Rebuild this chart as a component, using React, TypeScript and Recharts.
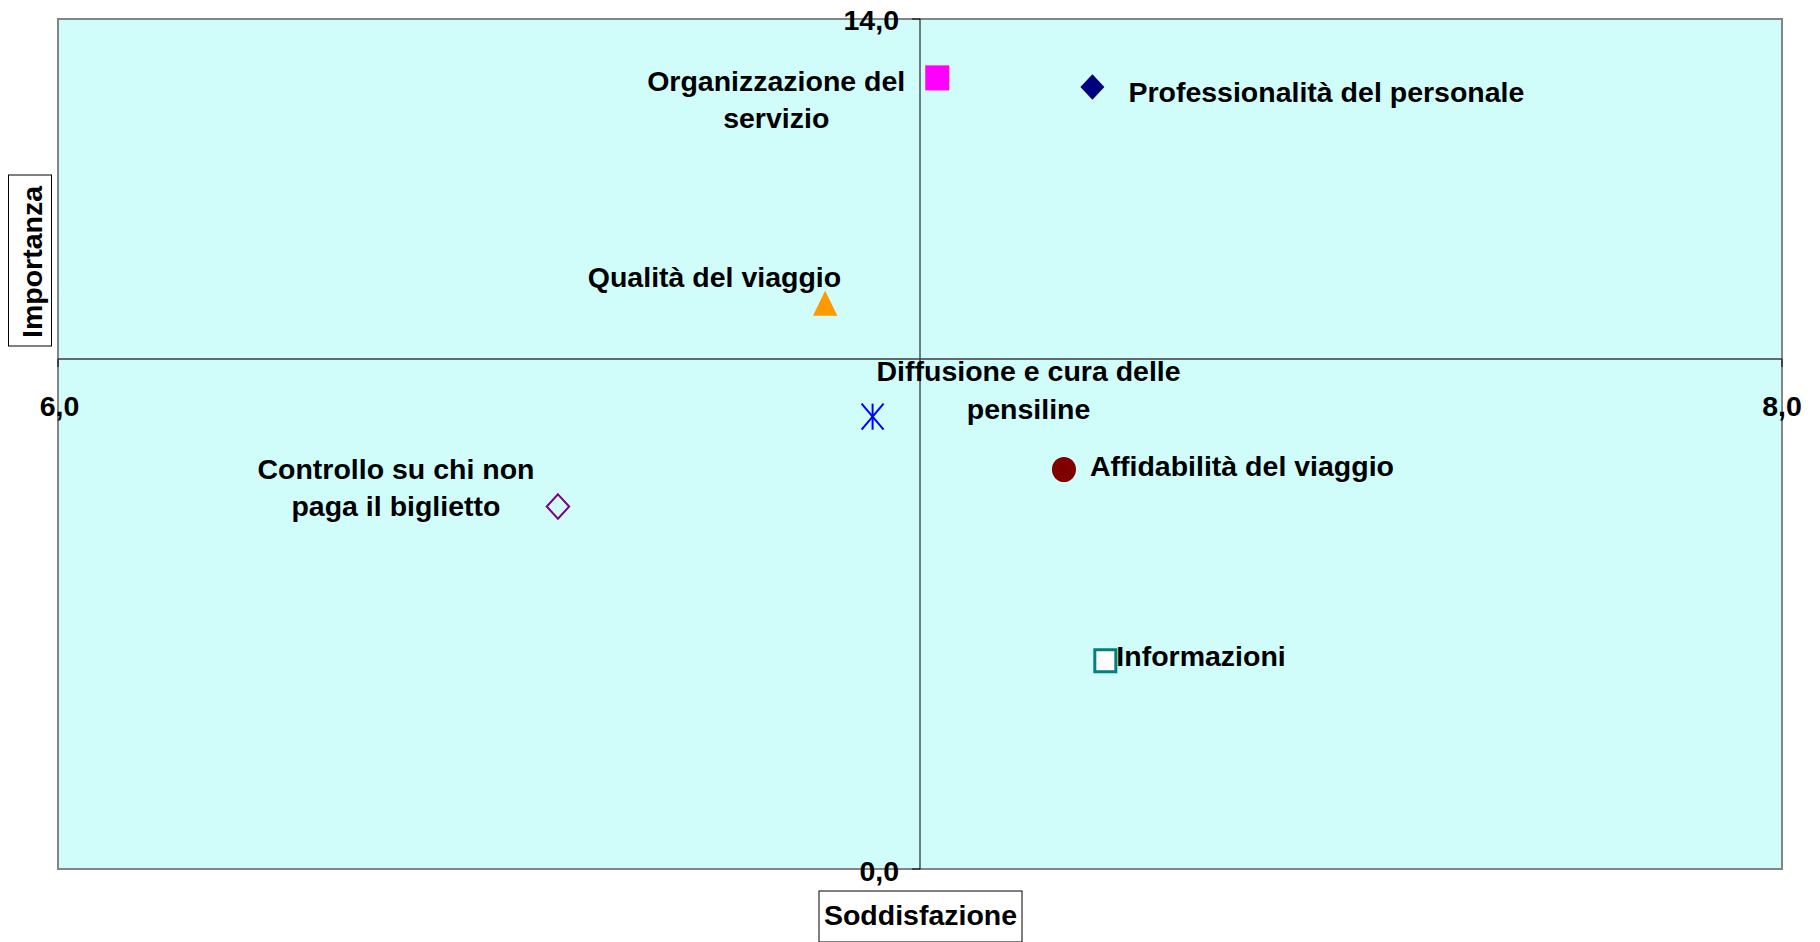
import React from 'react';
import {
  ScatterChart,
  Scatter,
  XAxis,
  YAxis,
  ReferenceArea,
  ReferenceLine,
  ReferenceDot,
} from 'recharts';

// ---------------- DATA ----------------
const categories = [
  'Professionalità del personale',
  'Organizzazione del servizio',
  'Qualità del viaggio',
  'Diffusione e cura delle pensiline',
  'Affidabilità del viaggio',
  'Controllo su chi non paga il biglietto',
  'Informazioni',
];
const soddisfazione = [7.2, 7.02, 6.89, 6.945, 7.167, 6.58, 7.215];
const importanza = [12.88, 13.03, 9.32, 7.45, 6.58, 5.97, 3.43];
const labelLines = [
  ['Professionalità del personale'],
  ['Organizzazione del', 'servizio'],
  ['Qualità del viaggio'],
  ['Diffusione e cura delle', 'pensiline'],
  ['Affidabilità del viaggio'],
  ['Controllo su chi non', 'paga il biglietto'],
  ['Informazioni'],
];
const xDomain = [6, 8];
const yDomain = [0, 14];
const xCross = 7;
const yCross = 8.4;
const xTickLabels = ['6,0', '8,0'];
const yTickLabels = ['0,0', '14,0'];
const xAxisTitle = 'Soddisfazione';
const yAxisTitle = 'Importanza';

// ---------------- STYLES ----------------
const FONT = '"Liberation Sans", Arial, Helvetica, sans-serif';
const FS = 28.5;
const W = 1820;
const H = 942;

type MarkerKind = 'diamond' | 'square' | 'triangle' | 'asterisk' | 'circle' | 'hollowDiamond' | 'hollowSquare';
const seriesStyle: { marker: MarkerKind; color: string; anchor: 'start' | 'middle' | 'end'; dx: number; dy: number; lh: number }[] = [
  { marker: 'diamond', color: '#000080', anchor: 'start', dx: 36, dy: 15, lh: 0 },
  { marker: 'square', color: '#FF00FF', anchor: 'middle', dx: -161, dy: 12.7, lh: 37.6 },
  { marker: 'triangle', color: '#FF9900', anchor: 'end', dx: 16, dy: -16, lh: 0 },
  { marker: 'asterisk', color: '#0000FF', anchor: 'middle', dx: 156, dy: -36, lh: 38 },
  { marker: 'circle', color: '#800000', anchor: 'start', dx: 26, dy: 6, lh: 0 },
  { marker: 'hollowDiamond', color: '#800080', anchor: 'middle', dx: -162, dy: -28, lh: 37 },
  { marker: 'hollowSquare', color: '#008080', anchor: 'start', dx: 11, dy: 5, lh: 0 },
];

const textStyle = { fontFamily: FONT, fontWeight: 700, fontSize: FS, fill: '#000' } as const;

function Marker({ kind, cx, cy, color }: { kind: MarkerKind; cx: number; cy: number; color: string }) {
  switch (kind) {
    case 'diamond':
      return <polygon points={`${cx},${cy - 12.8} ${cx + 12},${cy} ${cx},${cy + 12.8} ${cx - 12},${cy}`} fill={color} />;
    case 'square':
      return <rect x={cx - 12} y={cy - 12.5} width={24} height={25} fill={color} />;
    case 'triangle':
      return <polygon points={`${cx},${cy - 12.5} ${cx + 12.2},${cy + 12.5} ${cx - 12.2},${cy + 12.5}`} fill={color} />;
    case 'asterisk':
      return (
        <g stroke={color} strokeWidth={2}>
          <line x1={cx - 11} y1={cy - 13} x2={cx + 11} y2={cy + 13} />
          <line x1={cx + 11} y1={cy - 13} x2={cx - 11} y2={cy + 13} />
          <line x1={cx} y1={cy - 13} x2={cx} y2={cy + 13} />
        </g>
      );
    case 'circle':
      return <ellipse cx={cx} cy={cy} rx={12} ry={12.6} fill={color} />;
    case 'hollowDiamond':
      return (
        <polygon
          points={`${cx},${cy - 12.2} ${cx + 11.2},${cy} ${cx},${cy + 12.2} ${cx - 11.2},${cy}`}
          fill="none"
          stroke={color}
          strokeWidth={2}
        />
      );
    case 'hollowSquare':
      return <rect x={cx - 10.5} y={cy - 11} width={21} height={22} fill="#fff" stroke={color} strokeWidth={3} />;
    default:
      return null;
  }
}

function makeShape(i: number) {
  return (props: any) => {
    const { cx, cy } = props;
    const s = seriesStyle[i];
    return (
      <g>
        <Marker kind={s.marker} cx={cx} cy={cy} color={s.color} />
        <text x={cx + s.dx} y={cy + s.dy} textAnchor={s.anchor} style={textStyle}>
          {labelLines[i].map((ln, k) => (
            <tspan key={k} x={cx + s.dx} y={cy + s.dy + k * s.lh}>
              {ln}
            </tspan>
          ))}
        </text>
      </g>
    );
  };
}

const seriesData = categories.map((name, i) => ({
  name,
  data: [{ x: soddisfazione[i], y: importanza[i] }],
}));

export default function App() {
  return (
    <div style={{ position: 'absolute', left: 0, top: 0, width: W, height: H, background: '#fff' }}>
      <ScatterChart width={W} height={H} margin={{ top: 19, right: 38, bottom: 73, left: 58 }}>
        <XAxis type="number" dataKey="x" domain={xDomain} hide />
        <YAxis type="number" dataKey="y" domain={yDomain} hide />
        <ReferenceArea
          x1={xDomain[0]}
          x2={xDomain[1]}
          y1={yDomain[0]}
          y2={yDomain[1]}
          fill="#D0FCFA"
          fillOpacity={1}
          stroke="#858585"
          strokeWidth={2}
          ifOverflow="visible"
        />
        <ReferenceLine x={xCross} stroke="#000" strokeWidth={1} ifOverflow="visible" />
        <ReferenceLine y={yCross} stroke="#3a3a3a" strokeWidth={1.6} ifOverflow="visible" />
        {/* x tick labels on the crossing horizontal axis */}
        <ReferenceDot
          x={xDomain[0]}
          y={yCross}
          r={0}
          ifOverflow="visible"
          shape={(p: any) => (
            <g>
              <line x1={p.cx} y1={p.cy} x2={p.cx} y2={p.cy + 8} stroke="#000" strokeWidth={1} />
              <text x={p.cx + 1.5} y={p.cy + 57} textAnchor="middle" style={textStyle}>
                {xTickLabels[0]}
              </text>
              <rect x={p.cx - 49.5} y={p.cy - 184} width={43} height={171} fill="#fff" stroke="#000" strokeWidth={1} />
              <text
                transform={`translate(${p.cx - 26} ${p.cy - 97}) rotate(-90)`}
                x={0}
                y={10.2}
                textAnchor="middle"
                style={textStyle}
              >
                {yAxisTitle}
              </text>
            </g>
          )}
        />
        <ReferenceDot
          x={xDomain[1]}
          y={yCross}
          r={0}
          ifOverflow="visible"
          shape={(p: any) => (
            <g>
              <line x1={p.cx} y1={p.cy} x2={p.cx} y2={p.cy + 8} stroke="#000" strokeWidth={1} />
              <text x={p.cx} y={p.cy + 57} textAnchor="middle" style={textStyle}>
                {xTickLabels[1]}
              </text>
            </g>
          )}
        />
        {/* y tick labels on the crossing vertical axis */}
        <ReferenceDot
          x={xCross}
          y={yDomain[1]}
          r={0}
          ifOverflow="visible"
          shape={(p: any) => (
            <g>
              <line x1={p.cx - 8} y1={p.cy} x2={p.cx} y2={p.cy} stroke="#000" strokeWidth={1} />
              <text x={p.cx - 21} y={p.cy + 10.5} textAnchor="end" style={textStyle}>
                {yTickLabels[1]}
              </text>
            </g>
          )}
        />
        <ReferenceDot
          x={xCross}
          y={yDomain[0]}
          r={0}
          ifOverflow="visible"
          shape={(p: any) => (
            <g>
              <line x1={p.cx - 8} y1={p.cy} x2={p.cx} y2={p.cy} stroke="#000" strokeWidth={1} />
              <text x={p.cx - 21} y={p.cy + 11.5} textAnchor="end" style={textStyle}>
                {yTickLabels[0]}
              </text>
              <rect x={p.cx - 101} y={p.cy + 22} width={203} height={51} fill="#fff" stroke="#000" strokeWidth={1} />
              <text x={p.cx + 0.5} y={p.cy + 56} textAnchor="middle" style={textStyle}>
                {xAxisTitle}
              </text>
            </g>
          )}
        />
        {seriesData.map((s, i) => (
          <Scatter key={s.name} name={s.name} data={s.data} shape={makeShape(i)} isAnimationActive={false} />
        ))}
      </ScatterChart>
    </div>
  );
}
